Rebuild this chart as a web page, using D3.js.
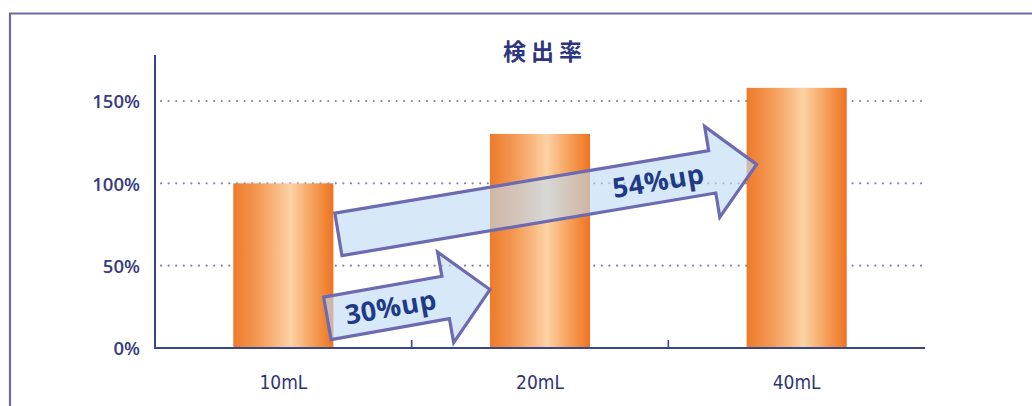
<!DOCTYPE html>
<html><head><meta charset="utf-8">
<script src="https://cdn.jsdelivr.net/npm/d3@7/dist/d3.min.js"></script>
<style>
html,body{margin:0;padding:0;background:#fff;}
svg{display:block;}
</style></head>
<body>
<script>
// ---- data ----
const categories = ["10mL", "20mL", "40mL"];
const values = [100, 130, 158];
const yTicks = [0, 50, 100, 150];
const title = "検出率";
const arrowLabels = ["30%up", "54%up"];
const arrowFrom = ["10mL", "10mL"];
const arrowTo = ["20mL", "40mL"];
const arrowStartValues = [18, 69];
const arrowEndValues = [35.5, 111.5];

// ---- layout ----
const W = 1032, H = 406;
const svg = d3.select("body").append("svg").attr("width", W).attr("height", H);
const plotLeft = 155, plotRight = 925, plotTop = 55, plotBase = 348;

const x = d3.scaleBand().domain(categories).range([plotLeft, plotRight]).padding(0);
const y = d3.scaleLinear().domain([0, 150]).range([plotBase, 101]);
const bw = x.bandwidth() * 0.39;
const barX = c => x(c) + (x.bandwidth() - bw) / 2;

// defs
const defs = svg.append("defs");
const g = defs.append("linearGradient").attr("id", "barGrad").attr("x1", "0").attr("x2", "1").attr("y1", "0").attr("y2", "0");
[["0%", "#ee7a2a"], ["25%", "#f39a55"], ["57%", "#fcd2a4"], ["82%", "#f49a50"], ["100%", "#ee7322"]]
  .forEach(([o, c]) => g.append("stop").attr("offset", o).attr("stop-color", c));

// frame
const frameColor = "#6a6aa6";
svg.append("line").attr("x1", 9).attr("x2", W).attr("y1", 13.5).attr("y2", 13.5)
  .attr("stroke", frameColor).attr("stroke-width", 2.2);
svg.append("line").attr("x1", 10).attr("x2", 10).attr("y1", 13).attr("y2", H)
  .attr("stroke", frameColor).attr("stroke-width", 2.2);

// title
svg.append("text").attr("x", 545).attr("y", 60).attr("text-anchor", "middle")
  .attr("font-family", "'Noto Sans CJK JP', sans-serif").attr("font-weight", 700)
  .attr("font-size", 23).attr("letter-spacing", 5).attr("fill", "#2c3680").text(title);

// gridlines
svg.append("g").selectAll("line").data(yTicks.filter(d => d > 0)).join("line")
  .attr("x1", plotLeft + 6).attr("x2", plotRight - 2)
  .attr("y1", d => y(d)).attr("y2", d => y(d))
  .attr("stroke", "#8a80aa").attr("stroke-width", 2.2)
  .attr("stroke-linecap", "round").attr("stroke-dasharray", "0,7.6");

// bars
svg.append("g").selectAll("rect").data(categories).join("rect")
  .attr("x", d => barX(d)).attr("width", bw)
  .attr("y", (d, i) => y(values[i])).attr("height", (d, i) => plotBase - y(values[i]))
  .attr("fill", "url(#barGrad)");

// y axis
const axisColor = "#3a4590";
const yAxis = svg.append("g").attr("transform", `translate(${plotLeft},0)`)
  .call(d3.axisLeft(y).tickValues(yTicks).tickFormat(d => d + "%").tickSize(0).tickPadding(15));
yAxis.select(".domain").remove();
yAxis.selectAll("text").attr("font-family", "'Open Sans', sans-serif").attr("font-weight", 600)
  .attr("font-size", 18.5).attr("fill", "#363c80").attr("dy", "0.36em");
svg.append("line").attr("x1", plotLeft).attr("x2", plotLeft).attr("y1", plotTop).attr("y2", plotBase + 1)
  .attr("stroke", axisColor).attr("stroke-width", 2);

// x axis
const xAxis = svg.append("g").attr("transform", `translate(0,${plotBase})`)
  .call(d3.axisBottom(x).tickSize(0).tickPadding(28));
xAxis.select(".domain").remove();
xAxis.selectAll("text").attr("font-family", "'DejaVu Sans Condensed', 'DejaVu Sans', sans-serif")
  .attr("font-size", 19).attr("fill", "#2f3570").attr("dy", "0.71em");
svg.append("line").attr("x1", plotLeft - 1).attr("x2", plotRight).attr("y1", plotBase).attr("y2", plotBase)
  .attr("stroke", axisColor).attr("stroke-width", 2.2);
svg.append("g").selectAll("line").data(categories.slice(1)).join("line")
  .attr("x1", d => x(d)).attr("x2", d => x(d)).attr("y1", plotBase).attr("y2", plotBase - 8)
  .attr("stroke", axisColor).attr("stroke-width", 1.6);

// arrows
const arrowLayout = [
  { tailDx: -6, tipDx: 0, textT: 0.39 },
  { tailDx: 5, tipDx: 10, textT: 0.765 }
];
const hw = 21.5, HW = 46, hl = 45;
const arrows = svg.append("g");
arrowLabels.forEach((lab, i) => {
  const lay = arrowLayout[i];
  const x0 = barX(arrowFrom[i]) + bw + lay.tailDx, y0 = y(arrowStartValues[i]);
  const x1 = barX(arrowTo[i]) + lay.tipDx, y1 = y(arrowEndValues[i]);
  const L = Math.hypot(x1 - x0, y1 - y0);
  const ang = Math.atan2(y1 - y0, x1 - x0) * 180 / Math.PI;
  const pts = [[0, -hw], [L - hl, -hw], [L - hl, -HW], [L, 0], [L - hl, HW], [L - hl, hw], [0, hw]];
  const a = arrows.append("g").attr("transform", `translate(${x0},${y0}) rotate(${ang})`);
  a.append("path").attr("d", d3.line()(pts) + "Z")
    .attr("fill", "#bedcf3").attr("fill-opacity", 0.62);
  a.append("path").attr("d", d3.line()(pts) + "Z")
    .attr("fill", "none").attr("stroke", "#6c6ab0").attr("stroke-width", 3.2)
    .attr("stroke-linejoin", "miter");
  a.append("text").attr("x", L * lay.textT).attr("y", 0).attr("dy", "0.36em")
    .attr("text-anchor", "middle").attr("font-family", "'Open Sans', sans-serif")
    .attr("font-weight", 700).attr("font-size", 27).attr("letter-spacing", 0.5)
    .attr("fill", "#1f3a86").text(lab);
});
</script>
</body></html>
